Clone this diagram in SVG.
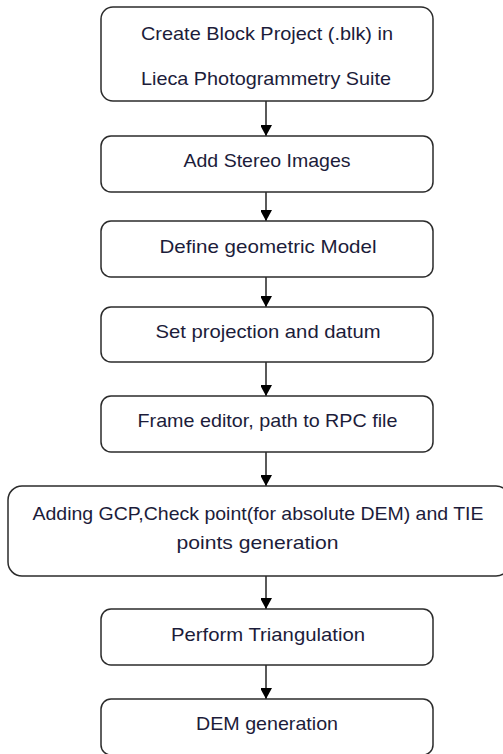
<svg xmlns="http://www.w3.org/2000/svg" width="503" height="754" viewBox="0 0 503 754">
<defs>
<marker id="ah" markerWidth="12" markerHeight="11" refX="11" refY="6" orient="auto" markerUnits="userSpaceOnUse">
<path d="M0,0 L11,6 L0,12 Z" fill="#000"/>
</marker>
<style>
.box{fill:#fff;stroke:#2b2b2b;stroke-width:1.5}
.t{font-family:"Liberation Sans",Arial,sans-serif;font-size:18.5px;fill:#1c1c3a;text-anchor:middle}
.c{stroke:#000;stroke-width:1.3;fill:none;marker-end:url(#ah)}
</style>
</defs>
<rect width="503" height="754" fill="#fff"/>
<g id="connectors">
<line class="c" x1="266" y1="101" x2="266" y2="136"/>
<line class="c" x1="266" y1="192" x2="266" y2="221"/>
<line class="c" x1="266" y1="277" x2="266" y2="307"/>
<line class="c" x1="266" y1="362" x2="266" y2="396"/>
<line class="c" x1="266" y1="452" x2="266" y2="486"/>
<line class="c" x1="266" y1="576" x2="266" y2="609"/>
<line class="c" x1="266" y1="665" x2="266" y2="699"/>
</g>
<g id="n1"><rect class="box" x="101" y="7" width="332" height="94" rx="12"/>
<text class="t" x="267" y="40" textLength="252" lengthAdjust="spacingAndGlyphs">Create Block Project (.blk) in</text>
<text class="t" x="266" y="85" textLength="250" lengthAdjust="spacingAndGlyphs">Lieca Photogrammetry Suite</text></g>
<g id="n2"><rect class="box" x="101" y="136" width="332" height="56" rx="10"/>
<text class="t" x="267" y="167" textLength="167" lengthAdjust="spacingAndGlyphs">Add Stereo Images</text></g>
<g id="n3"><rect class="box" x="101" y="221" width="332" height="56" rx="10"/>
<text class="t" x="268" y="253" textLength="217" lengthAdjust="spacingAndGlyphs">Define geometric Model</text></g>
<g id="n4"><rect class="box" x="101" y="307" width="332" height="55" rx="10"/>
<text class="t" x="268" y="338" textLength="225" lengthAdjust="spacingAndGlyphs">Set projection and datum</text></g>
<g id="n5"><rect class="box" x="101" y="396" width="332" height="56" rx="10"/>
<text class="t" x="267.5" y="427" textLength="260" lengthAdjust="spacingAndGlyphs">Frame editor, path to RPC file</text></g>
<g id="n6"><rect class="box" x="8" y="486" width="502" height="90" rx="14"/>
<text class="t" x="258" y="520" textLength="451" lengthAdjust="spacingAndGlyphs">Adding GCP,Check point(for absolute DEM) and TIE</text>
<text class="t" x="257.5" y="549" textLength="162" lengthAdjust="spacingAndGlyphs">points  generation</text></g>
<g id="n7"><rect class="box" x="101" y="609" width="332" height="56" rx="10"/>
<text class="t" x="268" y="641" textLength="194" lengthAdjust="spacingAndGlyphs">Perform Triangulation</text></g>
<g id="n8"><rect class="box" x="101" y="699" width="332" height="56" rx="10"/>
<text class="t" x="267" y="730" textLength="142" lengthAdjust="spacingAndGlyphs">DEM generation</text></g>
</svg>
